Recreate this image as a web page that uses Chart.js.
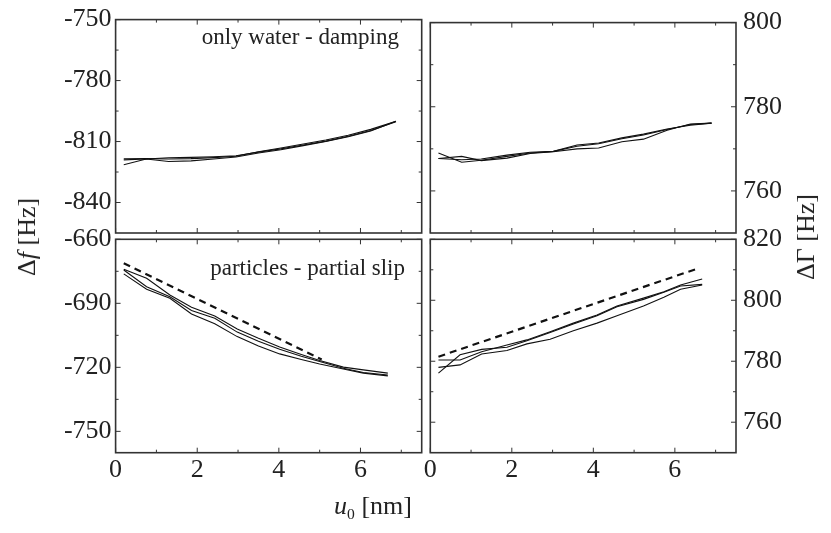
<!DOCTYPE html>
<html>
<head>
<meta charset="utf-8">
<title>Frequency and bandwidth shift vs. amplitude</title>
<script src="https://cdn.jsdelivr.net/npm/chart.js@4.4.1/dist/chart.umd.min.js"></script>
<style>
	body { margin: 0; background: #fff; }
	#wrap { position: relative; width: 831px; height: 533px; font-family: 'Liberation Serif', 'Times New Roman', serif; color: #222; }
	#wrap canvas { position: absolute; left: 0; top: 0; }
	.title { position: absolute; font-size: 26px; white-space: nowrap; transform: translate(-50%, -50%); }
	.rot { transform: translate(-50%, -50%) rotate(-90deg); }
	.title sub { font-size: 60%; vertical-align: -0.35em; }
</style>
</head>
<body>
<div id="wrap">
	<canvas id="c1" width="831" height="533"></canvas>
	<canvas id="c2" width="831" height="533"></canvas>
	<canvas id="c3" width="831" height="533"></canvas>
	<canvas id="c4" width="831" height="533"></canvas>
	<div class="title rot" style="left:27px;top:237px">&Delta;<i>f</i> [Hz]</div>
	<div class="title rot" style="left:806px;top:237px">&Delta;&Gamma; [Hz]</div>
	<div class="title" style="left:373px;top:507px"><i>u</i><sub>0</sub> [nm]</div>
</div>
<script>
// amplitude axis (u0 in nm)
const uTicks = [0, 2, 4, 6];
const uMinor = [1, 3, 5, 7];

// only water - frequency shift
const xWaterF = [0.2, 0.75, 1.3, 1.85, 2.4, 2.95, 3.5, 4.05, 4.6, 5.15, 5.7, 6.25, 6.87];
const waterF1 = [-821.4, -818.6, -818.0, -817.8, -817.5, -817.0, -815.2, -813.6, -811.7, -809.8, -807.4, -804.6, -800.2];
const waterF2 = [-819.0, -818.6, -819.8, -819.5, -818.6, -817.6, -815.6, -814.0, -812.0, -810.0, -807.6, -804.8, -800.0];
const waterF3 = [-818.5, -818.4, -818.6, -818.4, -817.9, -817.2, -815.0, -813.2, -811.2, -809.2, -806.9, -804.0, -800.0];
const waterFTicks = [-840, -810, -780, -750];
const waterFMinor = [-825, -795, -765];

// only water - bandwidth shift
const xWaterG = [0.2, 0.77, 1.25, 1.88, 2.45, 3.02, 3.6, 4.13, 4.7, 5.23, 5.81, 6.38, 6.9];
const waterG1 = [769.0, 766.8, 767.3, 768.2, 769.0, 769.4, 770.6, 771.2, 772.4, 773.3, 774.6, 775.8, 776.1];
const waterG2 = [767.7, 768.2, 767.2, 767.8, 768.9, 769.3, 770.0, 770.2, 771.7, 772.3, 774.4, 775.9, 776.1];
const waterG3 = [767.7, 767.4, 767.6, 768.5, 769.2, 769.4, 770.9, 771.4, 772.6, 773.5, 774.7, 775.6, 776.1];
const waterGTicks = [760, 780, 800];
const waterGMinor = [770, 790];

// particles - frequency shift
const xPartF = [0.2, 0.76, 1.33, 1.86, 2.43, 2.98, 3.5, 4.02, 4.55, 5.0, 5.58, 6.07, 6.67];
const partF1 = [-674.0, -678.3, -686.1, -691.8, -695.9, -702.0, -706.4, -710.5, -714.0, -716.8, -719.9, -721.2, -722.7];
const partF2 = [-674.4, -682.2, -686.9, -693.4, -697.0, -703.5, -707.8, -711.5, -714.8, -717.3, -720.4, -722.4, -723.6];
const partF3 = [-676.2, -683.4, -687.6, -695.0, -699.6, -705.6, -710.0, -713.7, -716.3, -718.4, -720.8, -722.7, -724.0];
const xSlipF = [0.2, 5.05];
const slipF = [-671.2, -716.3];
const partFTicks = [-750, -720, -690, -660];
const partFMinor = [-735, -705, -675];

// particles - bandwidth shift
const xPartG = [0.2, 0.73, 1.26, 1.88, 2.37, 2.94, 3.51, 4.09, 4.58, 5.23, 5.73, 6.14, 6.67];
const partG1 = [780.4, 780.4, 783.1, 785.3, 787.0, 789.7, 792.5, 795.2, 798.1, 800.7, 802.8, 805.0, 807.0];
const partG2 = [776.1, 782.1, 783.9, 784.6, 786.7, 789.4, 792.2, 794.9, 797.9, 800.3, 802.6, 804.7, 805.2];
const partG3 = [778.0, 778.8, 782.4, 783.5, 785.7, 787.2, 790.0, 792.5, 794.9, 798.1, 801.0, 803.6, 805.0];
const xSlipG = [0.2, 6.58];
const slipG = [781.5, 810.5];
const partGTicks = [760, 780, 800, 820];
const partGMinor = [770, 790, 810];

const W = 831, H = 533;
const ink = '#222';
const tickFont = { family: "'Liberation Serif', 'Times New Roman', serif", size: 26 };

function pts(xs, ys) {
	return xs.map(function(x, i) { return { x: x, y: ys[i] }; });
}

function solid(xs, ys) {
	return { data: pts(xs, ys), borderColor: '#111', borderWidth: 1.1, pointRadius: 0, fill: false, tension: 0 };
}

function dashed(xs, ys) {
	return { data: pts(xs, ys), borderColor: '#111', borderWidth: 2.2, borderDash: [7, 5], pointRadius: 0, fill: false, tension: 0 };
}

// box round the plot area, inward ticks on all four sides, panel note
const frame = {
	id: 'frame',
	afterDraw(chart, args, opts) {
		const ctx = chart.ctx, a = chart.chartArea;
		const xs = chart.scales.x, ys = chart.scales.y;
		ctx.save();
		ctx.strokeStyle = '#333';
		ctx.lineWidth = 1;
		function seg(x1, y1, x2, y2) {
			ctx.beginPath(); ctx.moveTo(x1, y1); ctx.lineTo(x2, y2); ctx.stroke();
		}
		function tx(v, len) {
			const x = xs.getPixelForValue(v);
			seg(x, a.bottom, x, a.bottom - len);
			seg(x, a.top, x, a.top + len);
		}
		function ty(v, len) {
			const y = ys.getPixelForValue(v);
			seg(a.left, y, a.left + len, y);
			seg(a.right, y, a.right - len, y);
		}
		xs.ticks.forEach(function(t) { tx(t.value, 5); });
		uMinor.forEach(function(v) { if (v < xs.max) tx(v, 3); });
		ys.ticks.forEach(function(t) { ty(t.value, 5); });
		opts.minor.forEach(function(v) { ty(v, 3); });

		ctx.lineWidth = 1.6;
		ctx.strokeRect(a.left, a.top, a.right - a.left, a.bottom - a.top);

		if (opts.text) {
			ctx.fillStyle = ink;
			ctx.font = "23px 'Liberation Serif', 'Times New Roman', serif";
			ctx.textAlign = 'right';
			ctx.textBaseline = 'alphabetic';
			ctx.fillText(opts.text, a.right - opts.dx, a.top + opts.dy);
		}
		ctx.restore();
	}
};

function panel(id, p) {
	const right = p.side === 'right';
	return new Chart(document.getElementById(id), {
		type: 'line',
		data: { datasets: p.sets },
		options: {
			responsive: false,
			animation: false,
			events: [],
			layout: {
				padding: {
					left: right ? p.area.left : 0,
					right: right ? 0 : W - p.area.right,
					top: p.area.top,
					bottom: p.xLabels ? 0 : H - p.area.bottom
				}
			},
			plugins: {
				legend: { display: false },
				tooltip: { enabled: false },
				frame: { minor: p.minor, text: p.text, dx: p.dx, dy: p.dy }
			},
			scales: {
				x: {
					type: 'linear', min: 0, max: 7.5,
					grid: { display: false, drawTicks: false },
					border: { display: false },
					ticks: { display: p.xLabels, font: tickFont, color: ink, padding: 2, maxRotation: 0 },
					afterBuildTicks: function(s) { s.ticks = uTicks.map(function(v) { return { value: v }; }); },
					afterFit: function(s) { s.height = p.xLabels ? H - p.area.bottom : 0; }
				},
				y: {
					type: 'linear', position: right ? 'right' : 'left',
					min: p.min, max: p.max,
					grid: { display: false, drawTicks: false },
					border: { display: false },
					ticks: { font: tickFont, color: ink, padding: right ? 7 : 4 },
					afterBuildTicks: function(s) { s.ticks = p.ticks.map(function(v) { return { value: v }; }); },
					afterFit: function(s) { s.width = right ? W - p.area.right : p.area.left; }
				}
			}
		},
		plugins: [frame]
	});
}

panel('c1', {
	side: 'left', xLabels: false,
	area: { left: 115.6, top: 19.3, right: 421.7, bottom: 233 },
	min: -855, max: -750, ticks: waterFTicks, minor: waterFMinor,
	text: 'only water - damping', dx: 22.7, dy: 24.7,
	sets: [solid(xWaterF, waterF1), solid(xWaterF, waterF2), solid(xWaterF, waterF3)]
});

panel('c2', {
	side: 'right', xLabels: false,
	area: { left: 430.3, top: 19.3, right: 736, bottom: 233 },
	min: 750, max: 800, ticks: waterGTicks, minor: waterGMinor,
	sets: [solid(xWaterG, waterG1), solid(xWaterG, waterG2), solid(xWaterG, waterG3)]
});

panel('c3', {
	side: 'left', xLabels: true,
	area: { left: 115.6, top: 239.3, right: 421.7, bottom: 452.7 },
	min: -760, max: -660, ticks: partFTicks, minor: partFMinor,
	text: 'particles - partial slip', dx: 16.7, dy: 35.7,
	sets: [solid(xPartF, partF1), solid(xPartF, partF2), solid(xPartF, partF3), dashed(xSlipF, slipF)]
});

panel('c4', {
	side: 'right', xLabels: true,
	area: { left: 430.3, top: 239.3, right: 736, bottom: 452.7 },
	min: 750, max: 820, ticks: partGTicks, minor: partGMinor,
	sets: [solid(xPartG, partG1), solid(xPartG, partG2), solid(xPartG, partG3), dashed(xSlipG, slipG)]
});
</script>
</body>
</html>
